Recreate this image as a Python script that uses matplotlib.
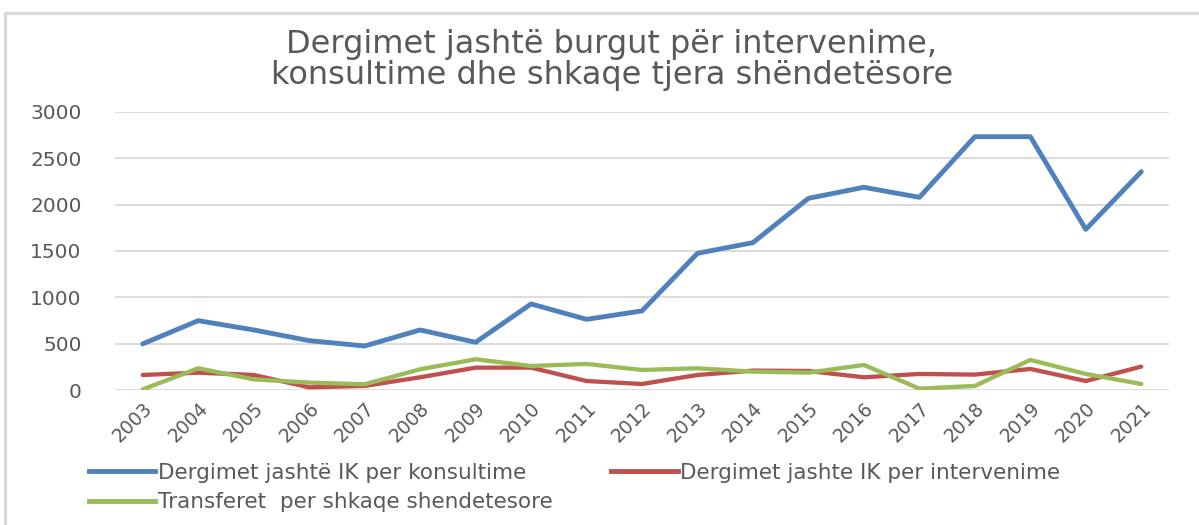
import matplotlib
matplotlib.use("Agg")
import matplotlib.pyplot as plt
from matplotlib.patches import Rectangle
from matplotlib.lines import Line2D

# Data
years = [str(y) for y in range(2003, 2022)]
konsultime = [500, 750, 650, 535, 477, 650, 517, 930, 764, 855,
              1475, 1590, 2067, 2186, 2078, 2731, 2731, 1733, 2354]
intervenime = [165, 190, 165, 32, 47, 140, 244, 244, 100, 68,
               165, 212, 208, 140, 176, 169, 230, 100, 255]
transferet = [10, 237, 118, 83, 65, 226, 334, 262, 284, 219,
              237, 201, 190, 273, 18, 47, 327, 176, 68]

labels = ["Dergimet jashtë IK per konsultime",
          "Dergimet jashte IK per intervenime",
          "Transferet  per shkaqe shendetesore"]
colors = ["#4F81BD", "#C0504D", "#9BBB59"]
title = "Dergimet jashtë burgut për intervenime,\nkonsultime dhe shkaqe tjera shëndetësore"
yticks = [0, 500, 1000, 1500, 2000, 2500, 3000]

txt = "#595959"
plt.rcParams['font.family'] = ['DejaVu Sans']

W, H = 1199, 525
fig = plt.figure(figsize=(W / 100, H / 100), dpi=100)

# chart frame
fig.add_artist(Rectangle((5 / W, -0.1), 1.2, 1 - 13 / H + 0.1, transform=fig.transFigure,
                         fill=False, edgecolor="#d9d9d9", lw=2.2))

ax = fig.add_axes([115 / W, 1 - 390.3 / H, (1169 - 115) / W, (390.3 - 111.7) / H])
x = range(len(years))
for vals, c, lw, z in [(konsultime, colors[0], 3.5, 3),
                       (intervenime, colors[1], 3.1, 3),
                       (transferet, colors[2], 3.1, 4)]:
    ax.plot(x, vals, color=c, lw=lw, solid_capstyle="round",
            solid_joinstyle="round", zorder=z)

ax.set_xlim(-0.5, len(years) - 0.5)
ax.set_ylim(0, 3000)
ax.set_yticks(yticks)
ax.set_yticklabels([str(v) for v in yticks], fontsize=14.5, color=txt)
ax.set_xticks(list(x))
ax.set_xticklabels(years, rotation=45, ha="right", va="top", rotation_mode="anchor",
                   fontsize=13.5, color=txt)
ax.tick_params(axis="y", length=0, pad=24)
ax.tick_params(axis="x", length=0, pad=6)
for s in ax.spines.values():
    s.set_visible(False)
ax.grid(axis="y", color="#d9d9d9", lw=1.3)
ax.set_axisbelow(True)

fig.text(612 / W, 1 - 60 / H, title, ha="center", va="center", fontsize=23,
         color=txt, linespacing=1.0)

# legend (column-wise fill: blue, green in col 1, red in col 2)
handles = [Line2D([], [], color=c, lw=3.5) for c in colors]
order = [0, 2, 1]
leg = fig.legend([handles[i] for i in order], [labels[i] for i in order], ncol=2,
                 loc="upper left", bbox_to_anchor=(80 / W, 1 - 454 / H), frameon=False,
                 fontsize=15.5, handlelength=3.1, handletextpad=0.12,
                 columnspacing=2.7, labelspacing=0.45, borderaxespad=0)
for t in leg.get_texts():
    t.set_color(txt)

fig.savefig("out.png", dpi=100)
